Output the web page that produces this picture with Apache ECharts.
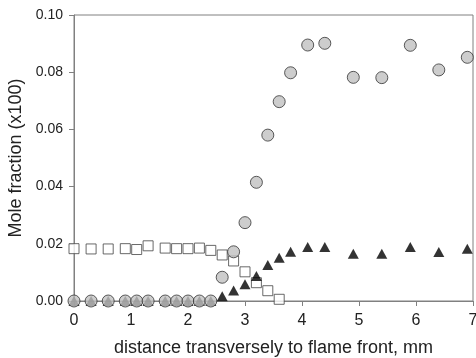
<!DOCTYPE html>
<html>
<head>
<meta charset="utf-8">
<script src="https://cdn.jsdelivr.net/npm/echarts@6/dist/echarts.min.js"></script>
<style>html,body{margin:0;padding:0;background:#fff}#c{width:476px;height:358px}</style>
</head>
<body>
<div id="c"></div>
<script>
var xTicks = [0, 1, 2, 3, 4, 5, 6, 7];
var yTicks = [0.00, 0.02, 0.04, 0.06, 0.08, 0.10];

var sqX = [0, 0.3, 0.6, 0.9, 1.1, 1.3, 1.6, 1.8, 2.0, 2.2, 2.4, 2.6, 2.8, 3.0, 3.2, 3.4, 3.6];
var sqY = [0.0183, 0.0182, 0.0182, 0.0183, 0.0180, 0.0193, 0.0185, 0.0183, 0.0183, 0.0185, 0.0177, 0.0161, 0.0140, 0.0102, 0.0064, 0.0036, 0.0006];

var triX = [0, 0.3, 0.6, 0.9, 1.1, 1.3, 1.6, 1.8, 2.0, 2.2, 2.4, 2.6, 2.8, 3.0, 3.2, 3.4, 3.6, 3.8, 4.1, 4.4, 4.9, 5.4, 5.9, 6.4, 6.9];
var triY = [0, 0, 0, 0, 0, 0, 0, 0, 0, 0, 0, 0.0017, 0.0037, 0.0059, 0.0087, 0.0126, 0.0151, 0.0172, 0.0189, 0.0189, 0.0165, 0.0165, 0.0189, 0.0171, 0.0183];

var cirX = [0, 0.3, 0.6, 0.9, 1.1, 1.3, 1.6, 1.8, 2.0, 2.2, 2.4, 2.6, 2.8, 3.0, 3.2, 3.4, 3.6, 3.8, 4.1, 4.4, 4.9, 5.4, 5.9, 6.4, 6.9];
var cirY = [0, 0, 0, 0, 0, 0, 0, 0, 0, 0, 0, 0.0083, 0.0172, 0.0274, 0.0415, 0.0580, 0.0697, 0.0798, 0.0895, 0.0901, 0.0782, 0.0781, 0.0894, 0.0808, 0.0852];

function pairs(xs, ys) { return xs.map(function (x, i) { return [x, ys[i]]; }); }

var chart = echarts.init(document.getElementById('c'), null, {renderer: 'canvas'});
var font = 'Liberation Sans, Arial, sans-serif';
chart.setOption({
  animation: false,
  grid: {left: 74, right: 3, top: 15, bottom: 57, show: true, borderColor: '#808080', borderWidth: 1,
         containLabel: false, outerBoundsMode: 'none'},
  xAxis: {
    type: 'value', min: xTicks[0], max: xTicks[xTicks.length - 1], interval: 1,
    name: 'distance transversely to flame front, mm', nameLocation: 'middle', nameGap: 38,
    nameTextStyle: {fontFamily: font, fontSize: 18, color: '#222'},
    axisLine: {lineStyle: {color: '#808080', width: 1}},
    axisTick: {show: true, inside: false, length: 5, lineStyle: {color: '#808080'}},
    axisLabel: {fontFamily: font, fontSize: 16, color: '#222', margin: 12},
    splitLine: {show: false}
  },
  yAxis: {
    type: 'value', min: yTicks[0], max: yTicks[yTicks.length - 1], interval: 0.02,
    name: 'Mole fraction (x100)', nameLocation: 'middle', nameGap: 43, nameRotate: 90,
    nameTextStyle: {fontFamily: font, fontSize: 18, color: '#222'},
    axisLine: {lineStyle: {color: '#808080', width: 1}},
    axisTick: {show: true, inside: false, length: 5, lineStyle: {color: '#808080'}},
    axisLabel: {fontFamily: font, fontSize: 14, color: '#222', margin: 11,
      formatter: function (v) { return v.toFixed(2); }},
    splitLine: {show: false}
  },
  series: [
    {type: 'scatter', data: pairs(sqX, sqY), symbol: 'rect', symbolSize: 10, z: 2,
     itemStyle: {color: '#ffffff', borderColor: '#444', borderWidth: 1}},
    {type: 'scatter', data: pairs(triX, triY), symbol: 'triangle', symbolSize: [11, 10], z: 3,
     itemStyle: {color: '#000000'}},
    {type: 'scatter', data: pairs(cirX, cirY), symbol: 'circle', symbolSize: 12, z: 4,
     itemStyle: {color: '#c0c0c0', borderColor: '#333', borderWidth: 1}}
  ]
});
</script>
</body>
</html>
